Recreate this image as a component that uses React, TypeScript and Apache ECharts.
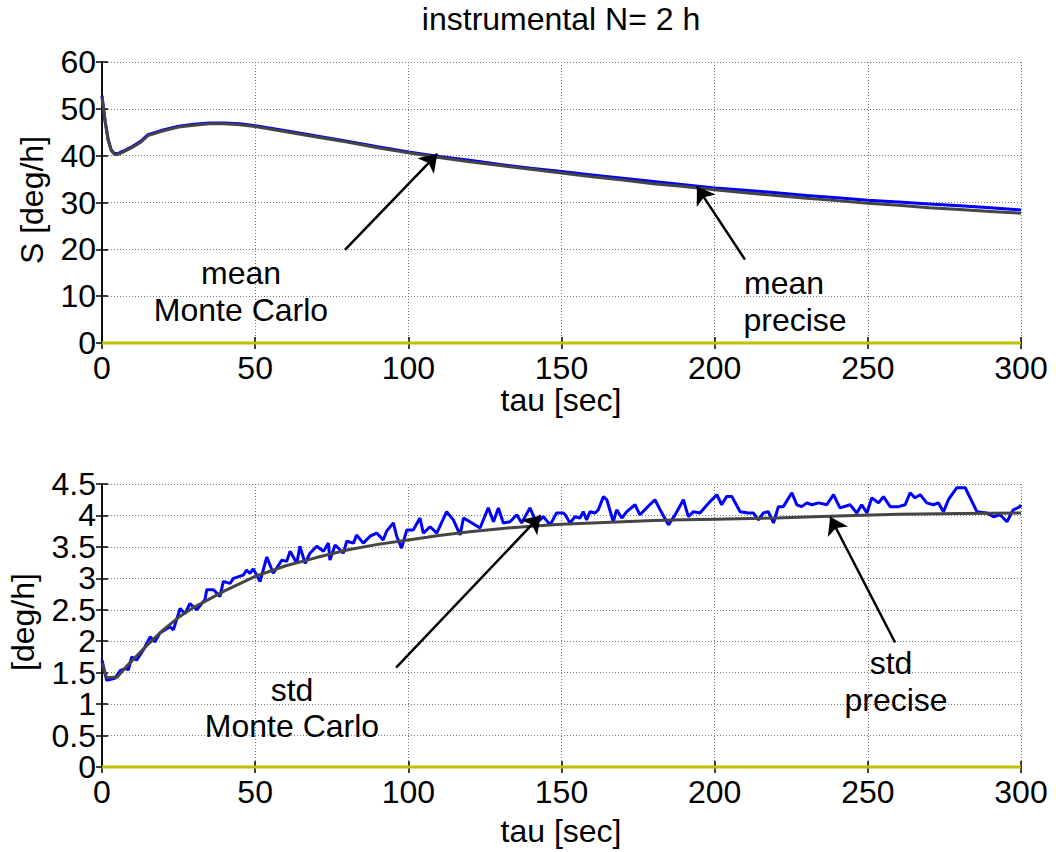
import React, { useEffect, useRef } from "react";
import * as echarts from "echarts";

const FONT = "'Liberation Sans', Arial, Helvetica, sans-serif";

// x ticks
const xTicks = { min: 0, max: 300, interval: 50 };
const yTopTicks = { min: 0, max: 60, interval: 10 };
const yBotTicks = { min: 0, max: 4.5, interval: 0.5 };
const yBotLabels = [0, 0.5, 1, 1.5, 2, 2.5, 3, 3.5, 4, 4.5];

// Top panel: mean
const tauMean = [0, 1, 2, 3, 4, 5, 7, 10, 12.5, 15, 20, 25, 30, 35, 40, 45, 50, 60, 70, 80, 90, 100, 110, 120, 130, 140, 150, 160, 170, 180, 190, 200, 210, 220, 230, 240, 250, 260, 270, 280, 290, 300];
const meanMC = [52.8, 47.5, 43.5, 41.3, 40.5, 40.4, 41.0, 42.0, 43.0, 44.5, 45.5, 46.3, 46.7, 47.0, 47.0, 46.8, 46.4, 45.3, 44.2, 43.1, 41.9, 40.8, 39.8, 39.0, 38.1, 37.3, 36.6, 35.9, 35.2, 34.5, 33.8, 33.1, 32.6, 32.1, 31.5, 31.0, 30.5, 30.1, 29.7, 29.3, 28.9, 28.4];
const meanPrecise = [52.5, 47.3, 43.3, 41.1, 40.3, 40.2, 40.8, 41.8, 42.8, 44.3, 45.3, 46.1, 46.5, 46.8, 46.8, 46.6, 46.2, 45.1, 44.0, 42.9, 41.7, 40.6, 39.6, 38.7, 37.9, 37.1, 36.3, 35.5, 34.8, 34.0, 33.4, 32.7, 32.1, 31.5, 30.9, 30.4, 29.85, 29.4, 28.9, 28.5, 28.1, 27.7];

// Bottom panel: std
const tauStdPrecise = [0, 1.5, 5, 8, 10, 15, 20, 25, 30, 35, 40, 50, 60, 70, 80, 90, 100, 110, 120, 130, 140, 150, 160, 170, 180, 190, 200, 220, 240, 260, 280, 300];
const stdPrecise = [1.65, 1.42, 1.43, 1.6, 1.7, 1.95, 2.18, 2.38, 2.54, 2.67, 2.8, 3.03, 3.2, 3.33, 3.45, 3.54, 3.61, 3.68, 3.74, 3.79, 3.83, 3.86, 3.88, 3.9, 3.92, 3.93, 3.94, 3.96, 3.99, 4.02, 4.03, 4.04];

const tauStdMC = [0, 1.5, 4.2, 5.9, 8.1, 8.6, 9.7, 11.3, 13.5, 15.7, 17.3, 18.9, 22.2, 23.3, 25.5, 27.1, 28.7, 30.9, 33.6, 34.2, 36.4, 38.5, 39.6, 41.8, 42.9, 46.1, 47.2, 48.3, 49.4, 51.6, 53.8, 55.9, 58.7, 60.3, 61.4, 63.6, 64.6, 66.3, 67.9, 70.1, 72.3, 73.9, 74.4, 76.1, 78.8, 79.9, 82.1, 83.1, 85.3, 87.5, 89.7, 91.8, 92.9, 95.1, 96.2, 97.8, 99.5, 101.6, 103.8, 104.9, 107.1, 109.3, 112.5, 114.7, 116.9, 118.0, 120.1, 123.4, 126.1, 127.8, 129.4, 131.0, 133.2, 135.4, 137.0, 139.7, 141.9, 144.1, 146.3, 148.4, 150.6,
  151.2, 152.8, 154.4, 156.1, 157.1, 158.2, 159.3, 161.0, 162.0, 163.7, 164.8, 166.9, 168.0, 169.7, 171.3, 174.0, 175.6, 177.8, 180.5, 182.2, 184.9, 187.1, 189.8, 191.4, 193.1, 195.2, 198.5, 200.7, 202.3, 203.9, 205.6, 208.3, 211.0, 212.6, 214.3, 215.9, 217.5, 219.2, 220.8, 222.4, 225.2, 226.8, 228.4, 230.1, 231.7, 233.9, 236.6, 238.8, 240.9, 244.2, 246.4, 248.0, 249.7, 251.3, 253.5, 255.1, 257.3, 260.0, 262.2, 263.8, 265.4, 267.1, 269.2, 271.4, 273.0, 274.7, 276.3, 279.0, 281.8, 283.4, 285.6, 288.8, 291.0, 293.2, 295.4, 297.5, 299.7, 300];
const stdMC = [1.70, 1.38, 1.41, 1.53, 1.57, 1.54, 1.75, 1.70, 1.86, 2.07, 1.99, 2.13, 2.23, 2.18, 2.52, 2.44, 2.60, 2.50, 2.66, 2.82, 2.82, 2.71, 2.95, 2.92, 3.00, 3.05, 3.13, 3.08, 3.15, 2.95, 3.34, 3.08, 3.29, 3.27, 3.43, 3.24, 3.51, 3.24, 3.40, 3.51, 3.43, 3.56, 3.29, 3.53, 3.40, 3.59, 3.56, 3.69, 3.56, 3.67, 3.72, 3.61, 3.75, 3.88, 3.67, 3.48, 3.77, 3.77, 3.96, 3.72, 3.82, 3.72, 4.06, 3.93, 3.69, 3.96, 3.90, 3.80, 4.12, 3.90, 4.12, 3.88, 3.90, 4.01, 3.88, 4.12, 3.88, 3.98, 3.85, 4.04, 4.04,
  4.01, 3.88, 3.98, 3.96, 4.06, 3.93, 4.06, 4.04, 4.09, 4.30, 4.25, 3.90, 4.09, 3.96, 4.06, 4.17, 4.01, 4.12, 4.25, 4.09, 3.85, 4.01, 4.25, 3.98, 4.06, 4.04, 4.22, 4.33, 4.17, 4.30, 4.30, 4.06, 4.04, 4.04, 3.93, 4.04, 4.06, 3.88, 4.14, 4.14, 4.36, 4.17, 4.14, 4.20, 4.17, 4.20, 4.17, 4.33, 4.12, 4.17, 4.04, 4.17, 4.04, 4.28, 4.20, 4.30, 4.14, 4.14, 4.17, 4.36, 4.28, 4.33, 4.20, 4.17, 4.20, 4.06, 4.25, 4.44, 4.44, 4.28, 4.06, 4.04, 3.98, 4.01, 3.90, 4.09, 4.14, 4.17];

// zero reference line
const tauZero = [0, 300];
const zeroVals = [0, 0];

// annotation arrows (data coords): [tailX, tailY, headX, headY]
const arrowsTop = [[79.3, 19.9, 109.5, 40.4], [209.9, 17.8, 194.2, 33.4]];
const arrowsBottom = [[96.0, 1.58, 143.2, 4.0], [258.9, 1.98, 237.7, 3.98]];

const zip = (xs: number[], ys: number[]) => xs.map((x, i) => [x, ys[i]]);

const C_BLUE = "#0000ff";
const C_GRAY = "#454545";
const C_YEL = "#bfbf00";

function makeArrows(list: number[][]) {
  return {
    silent: true,
    symbol: ["none", "arrow"],
    symbolSize: 17,
    label: { show: false },
    lineStyle: { color: "#000", width: 2.5, type: "solid" },
    emphasis: { disabled: true },
    data: list.map((a) => [
      { coord: [a[0], a[1]], symbol: "none" },
      { coord: [a[2], a[3]], symbol: "arrow" },
    ]),
  };
}

export default function App() {
  const ref = useRef<HTMLDivElement>(null);
  useEffect(() => {
    if (!ref.current) return;
    const chart = echarts.init(ref.current, undefined, { renderer: "svg" });
    const axisLine = { show: true, lineStyle: { color: "#000", width: 1.5 } };
    const tick = { show: true, inside: true, length: 6, lineStyle: { color: "#000", width: 1.5 } };
    const split = { show: true, lineStyle: { color: "#7a7a7a", width: 1, type: [1, 2] } };
    const label = { show: true, color: "#000", fontSize: 32, lineHeight: 26, fontFamily: FONT, margin: 6, showMinLabel: true, showMaxLabel: true };
    const xLabel = { ...label, margin: 12 };

    const xMain = (gi: number) => ({ type: "value", gridIndex: gi, position: "bottom", ...xTicks, axisLine, axisTick: tick, splitLine: split, axisLabel: xLabel });
    const xTop = (gi: number) => ({ type: "value", gridIndex: gi, position: "top", ...xTicks, axisLine, axisTick: tick, splitLine: { show: false }, axisLabel: { show: false } });
    const yMain = (gi: number, t: any, lab: any) => ({ type: "value", gridIndex: gi, position: "left", ...t, axisLine, axisTick: tick, splitLine: split, axisLabel: lab });
    const yRight = (gi: number, t: any) => ({ type: "value", gridIndex: gi, position: "right", ...t, axisLine, axisTick: tick, splitLine: { show: false }, axisLabel: { show: false } });

    const txt = (text: string, x: number, y: number, rot = 0, align = "center") => ({
      type: "text",
      x,
      y,
      rotation: rot,
      silent: true,
      style: { text, fill: "#000", fontSize: 32, lineHeight: 26, fontFamily: FONT, align, verticalAlign: "middle" },
    });

    const lineS = (xi: number, yi: number, data: number[][], color: string, extra: any = {}) => ({
      type: "line",
      xAxisIndex: xi,
      yAxisIndex: yi,
      data,
      showSymbol: false,
      symbol: "none",
      lineStyle: { color, width: 3 },
      itemStyle: { color },
      silent: true,
      ...extra,
    });

    const baseGraphics = [
      txt("instrumental N= 2 h", 561, 19),
      txt("S [deg/h]", 32, 200, Math.PI / 2),
      txt("tau [sec]", 561, 400),
      txt("[deg/h]", 23, 622, Math.PI / 2),
      txt("tau [sec]", 561, 831),
      txt("mean", 241, 273),
      txt("Monte Carlo", 241, 310),
      txt("mean", 784, 283),
      txt("precise", 795, 320),
      txt("std", 292, 690),
      txt("Monte Carlo", 292, 726),
      txt("std", 891, 663),
      txt("precise", 896, 700),
    ];

    chart.setOption({
      animation: false,
      backgroundColor: "#ffffff",
      grid: [
        { left: 102, top: 62, width: 919, height: 281 },
        { left: 102, top: 484, width: 919, height: 283 },
      ],
      xAxis: [xMain(0), xTop(0), xMain(1), xTop(1)],
      yAxis: [yMain(0, yTopTicks, label), yRight(0, yTopTicks), yMain(1, yBotTicks, { show: false }), yRight(1, yBotTicks)],
      series: [
        lineS(0, 0, zip(tauZero, zeroVals), C_YEL, { clip: false }),
        lineS(0, 0, zip(tauMean, meanMC), C_BLUE),
        lineS(0, 0, zip(tauMean, meanPrecise), C_GRAY, { markLine: makeArrows(arrowsTop) }),
        lineS(2, 2, zip(tauZero, zeroVals), C_YEL, { clip: false }),
        lineS(2, 2, zip(tauStdMC, stdMC), C_BLUE),
        lineS(2, 2, zip(tauStdPrecise, stdPrecise), C_GRAY, { markLine: makeArrows(arrowsBottom) }),
      ],
      graphic: baseGraphics,
    });

    // bottom y-axis tick labels placed through the axis scale
    const x0 = chart.convertToPixel({ xAxisIndex: 2 }, 0) as number;
    const yLabs = yBotLabels.map((v) => {
      const py = chart.convertToPixel({ yAxisIndex: 2 }, v) as number;
      return txt(String(v), x0 - 6, py, 0, "right");
    });
    chart.setOption({ graphic: [...baseGraphics, ...yLabs] }, { replaceMerge: ["graphic"] });

    return () => chart.dispose();
  }, []);
  return <div ref={ref} style={{ position: "fixed", left: 0, top: 0, width: 1056, height: 852, background: "#fff" }} />;
}
